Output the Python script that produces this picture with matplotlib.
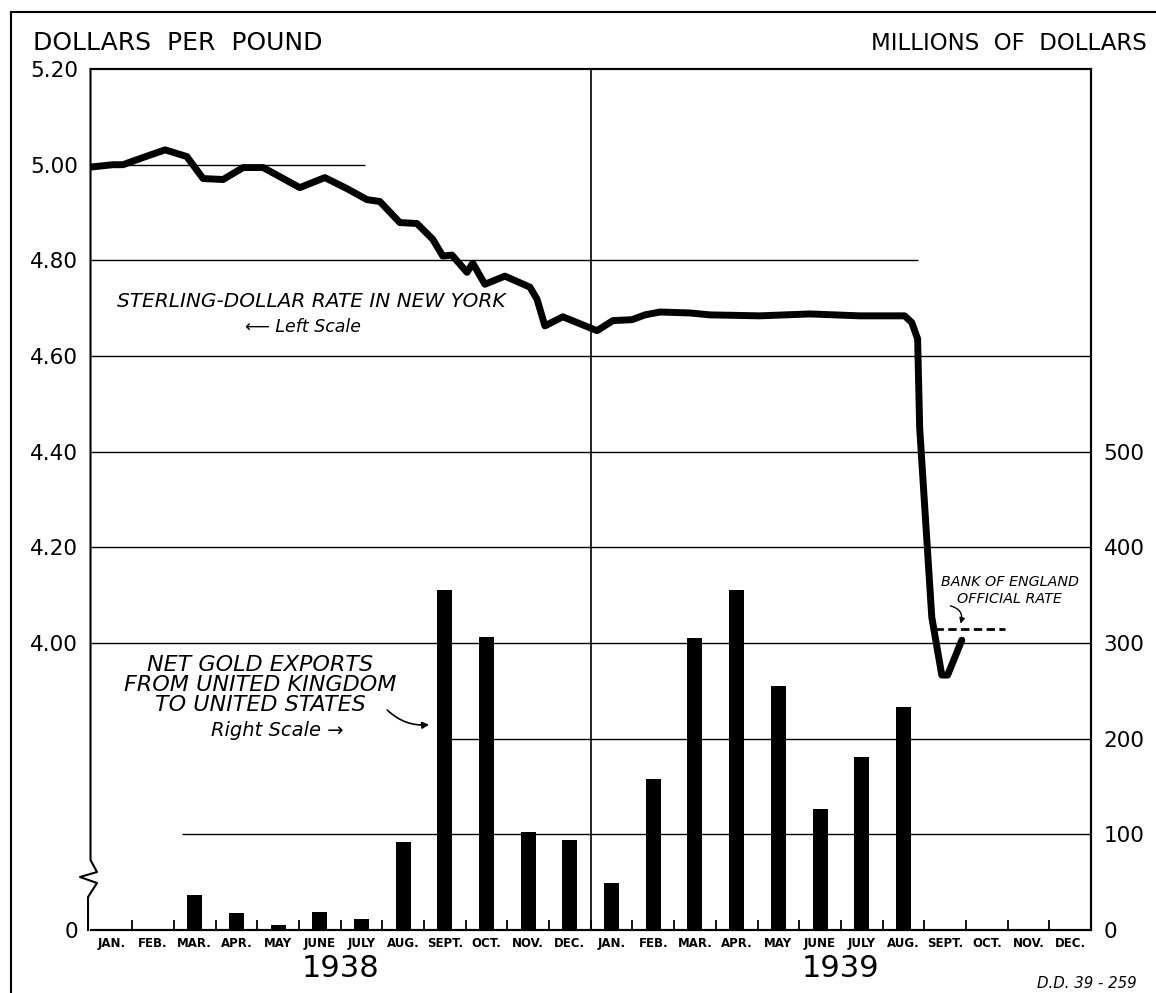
# Sterling-dollar rate and net gold exports, 1938-1939

import numpy as np
import matplotlib
matplotlib.use('Agg')
import matplotlib.pyplot as plt
from matplotlib.lines import Line2D

plt.rcParams['font.family'] = ['DejaVu Sans']

# month labels (two years)
months = ['JAN.', 'FEB.', 'MAR.', 'APR.', 'MAY', 'JUNE', 'JULY',
          'AUG.', 'SEPT.', 'OCT.', 'NOV.', 'DEC.']
years = ['1938', '1939']

# net gold exports, UK -> US, millions of dollars (right scale)
gold_1938 = [0, 0, 37, 18, 5, 19, 12, 92, 355, 306, 102, 94]
gold_1939 = [49, 158, 305, 355, 255, 126, 181, 233]

# sterling-dollar rate in New York, dollars per pound (left scale)
rate_month = [0.0, 0.54, 0.78, 1.26, 1.79, 2.31, 2.70, 3.18, 3.66, 4.14,
              4.54, 5.02, 5.62, 6.15, 6.63, 6.94, 7.42, 7.83, 8.21, 8.45,
              8.67, 9.03, 9.17, 9.46, 9.94, 10.54, 10.71, 10.90, 11.33, 12.15,
              12.53, 12.99, 13.30, 13.66, 14.38, 14.86, 16.05, 17.25, 18.45, 19.53,
              19.70, 19.84, 19.89, 20.18, 20.42, 20.56, 20.90]
rate_value = [4.995, 5.000, 5.000, 5.015, 5.031, 5.017, 4.971, 4.969, 4.994, 4.994,
              4.975, 4.952, 4.973, 4.950, 4.927, 4.923, 4.879, 4.877, 4.844, 4.809,
              4.811, 4.775, 4.794, 4.750, 4.767, 4.744, 4.719, 4.663, 4.682, 4.653,
              4.674, 4.676, 4.686, 4.692, 4.690, 4.686, 4.684, 4.688, 4.684, 4.684,
              4.670, 4.636, 4.449, 4.054, 3.933, 3.933, 4.006]

official_rate = 4.03

left_ticks = [3.40, 4.00, 4.20, 4.40, 4.60, 4.80, 5.00, 5.20]
left_labels = ['0', '4.00', '4.20', '4.40', '4.60', '4.80', '5.00', '5.20']
right_ticks = [0, 100, 200, 300, 400, 500]

fig = plt.figure(figsize=(11.56, 9.93), dpi=100)
ax = fig.add_axes([0.0783, 0.0634, 0.8655, 0.8671])
ax2 = ax.twinx()

ax.set_xlim(0, 24)
ax.set_ylim(3.40, 5.20)
ax2.set_ylim(0, 900)

# partial horizontal rules, as drawn on the original
ax.hlines(5.00, 0, 6.58, color='k', lw=1.0)
ax.hlines(4.80, 0, 19.85, color='k', lw=1.0)
for v in [4.60, 4.40, 4.20, 4.00]:
    ax.hlines(v, 0, 24, color='k', lw=1.0)
ax2.hlines(200, 8.5, 24, color='k', lw=1.0)
ax2.hlines(100, 2.19, 24, color='k', lw=1.0)
ax.axvline(12, color='k', lw=1.2)

# gold export bars
x38 = np.arange(12) + 0.5
x39 = np.arange(len(gold_1939)) + 12.5
ax2.bar(x38, gold_1938, width=0.36, color='k')
ax2.bar(x39, gold_1939, width=0.36, color='k')

# exchange rate line
ax.plot(rate_month, rate_value, color='k', lw=5, solid_capstyle='round',
        solid_joinstyle='round', zorder=5)
ax.plot([20.26, 21.93], [official_rate, official_rate], color='k', lw=2,
        dashes=(3, 1.6))

# axes, ticks
ax.set_yticks(left_ticks)
ax.set_yticklabels(left_labels, fontsize=15.5)
ax.tick_params(axis='y', length=0, pad=9)
ax2.set_yticks(right_ticks)
ax2.set_yticklabels([str(t) for t in right_ticks], fontsize=15.5)
ax2.tick_params(axis='y', length=0, pad=9)

ax.set_xticks(np.arange(1, 24))
ax.set_xticklabels([])
ax.set_xticks(np.arange(24) + 0.5, minor=True)
ax.set_xticklabels(months * 2, minor=True, fontsize=8.5, fontweight='bold')
ax.tick_params(axis='x', which='major', direction='in', length=7, width=1.3)
ax.tick_params(axis='x', which='minor', length=0, pad=5)

for a in (ax, ax2):
    for s in a.spines.values():
        s.set_linewidth(1.5)
    a.spines['left'].set_visible(False)

# left spine with the scale break
brk_x = [0, 0, 0.0065, -0.0105, 0.0065, -0.0025, -0.0025]
brk_y = [1, 0.0813, 0.0674, 0.0616, 0.0546, 0.0383, 0]
ax.plot(brk_x, brk_y, color='k', lw=1.5, transform=ax.transAxes, clip_on=False)

# year labels
for i, yr in enumerate(years):
    ax.text(6 + 12 * i, -0.045, yr, transform=ax.get_xaxis_transform(),
            ha='center', va='center', fontsize=22)

# annotations
ax.text(0.64, 4.715, 'STERLING-DOLLAR RATE IN NEW YORK', style='italic',
        fontsize=14.5, va='center', ha='left')
ax.text(3.7, 4.66, '\u27f5 Left Scale', style='italic', fontsize=12.5,
        va='center', ha='left')
ax2.text(4.07, 256, 'NET GOLD EXPORTS\nFROM UNITED KINGDOM\nTO UNITED STATES',
         style='italic', fontsize=16, ha='center', va='center', linespacing=1.0)
ax2.text(4.47, 209, 'Right Scale \u2192', style='italic', fontsize=14,
         ha='center', va='center')
ax2.annotate('', xy=(8.19, 215), xytext=(7.07, 232),
             arrowprops=dict(arrowstyle='-|>', color='k', lw=1.2,
                             connectionstyle='arc3,rad=0.25', mutation_scale=10))
ax.text(22.05, 4.11, 'BANK OF ENGLAND\nOFFICIAL RATE', style='italic',
        fontsize=10.3, ha='center', va='center', linespacing=1.2)
ax.annotate('', xy=(20.85, 4.035), xytext=(20.56, 4.079),
            arrowprops=dict(arrowstyle='-|>', color='k', lw=1.0,
                            connectionstyle='arc3,rad=-0.6', mutation_scale=8))

# headings
fig.text(33 / 1156, 1 - 43 / 993, 'DOLLARS  PER  POUND', fontsize=18,
         ha='left', va='center')
fig.text(1147 / 1156, 1 - 44 / 993, 'MILLIONS  OF  DOLLARS', fontsize=16.5,
         ha='right', va='center')
fig.text(1137 / 1156, 1 - 983 / 993, 'D.D. 39 - 259', style='italic',
         fontsize=10.8, ha='right', va='center')

# outer frame
fig.add_artist(Line2D([11 / 1156, 1.0], [1 - 12 / 993, 1 - 12 / 993],
                      color='k', lw=1.5, transform=fig.transFigure))
fig.add_artist(Line2D([11 / 1156, 11 / 1156], [0, 1 - 12 / 993],
                      color='k', lw=1.5, transform=fig.transFigure))

fig.savefig('out.png', dpi=100, facecolor='white')
